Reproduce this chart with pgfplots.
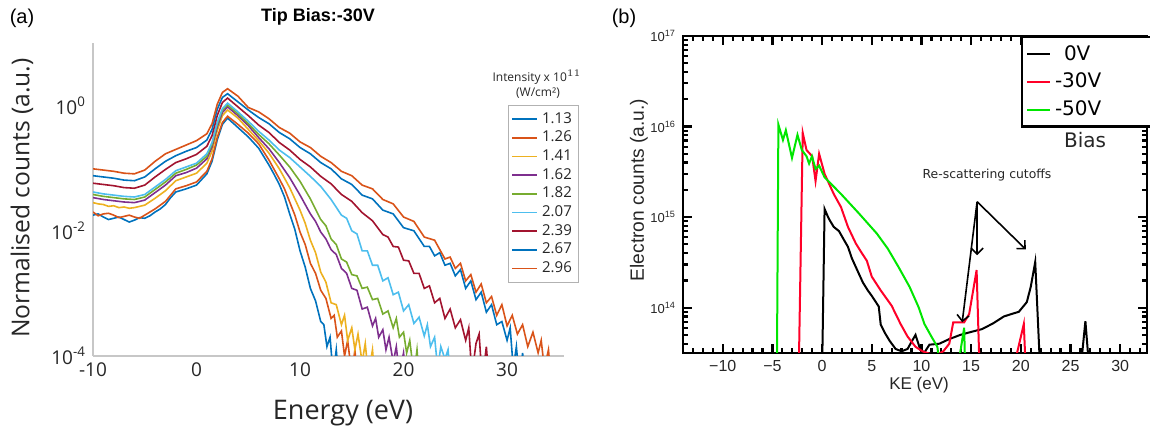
\documentclass[border=0pt]{standalone}
\usepackage{pgfplots}
\pgfplotsset{compat=1.18}
\usepackage{pgfplotstable}
\usetikzlibrary{arrows.meta}
\usepackage{fontspec}
\setmainfont{Liberation Sans}
\newfontfamily\osans{Open Sans}
\newfontfamily\dvs{DejaVu Sans}
\definecolor{m1}{RGB}{0,114,189}
\definecolor{m2}{RGB}{217,83,25}
\definecolor{m3}{RGB}{237,177,32}
\definecolor{m4}{RGB}{126,47,142}
\definecolor{m5}{RGB}{119,172,48}
\definecolor{m6}{RGB}{77,190,238}
\definecolor{m7}{RGB}{162,20,47}
\definecolor{cred}{RGB}{255,0,40}
\definecolor{cgreen}{RGB}{0,230,0}

% left panel: x = energy (eV), ly = log10(normalised counts)
\pgfplotstableread[row sep=\\]{
x ly\\
-10 -1.75\\ -9.5 -1.73\\ -9 -1.78\\ -8.5 -1.82\\ -8 -1.80\\ -7.5 -1.78\\ -7 -1.82\\ -6.5 -1.86\\ -6 -1.83\\ -5.5 -1.79\\ -5 -1.80\\ -4.5 -1.76\\ -4 -1.70\\ -3.5 -1.65\\ -3 -1.58\\ -2.5 -1.47\\ -2 -1.38\\ -1 -1.33\\ 0 -1.27\\ 1 -1.09\\ 1.5 -0.89\\ 2 -0.55\\ 2.5 -0.30\\ 3 -0.20\\
4 -0.35\\ 5 -0.50\\ 6 -0.68\\ 7 -0.95\\ 7.5 -1.10\\ 8 -1.26\\ 8.5 -1.46\\ 9 -1.73\\ 9.5 -1.98\\ 10 -2.32\\ 10.5 -2.58\\ 11 -2.92\\ 11.5 -3.12\\ 12 -3.45\\ 12.3 -3.50\\ 12.6 -3.85\\ 12.9 -3.70\\ 13.2 -4.3\\ 13.5 -3.90\\ 13.8 -4.5\\
}\tA
\pgfplotstableread[row sep=\\]{
x ly\\
-10 -1.70\\ -9.5 -1.76\\ -9 -1.73\\ -8.5 -1.72\\ -8 -1.75\\ -7.5 -1.79\\ -7 -1.77\\ -6.5 -1.75\\ -6 -1.78\\ -5.5 -1.80\\ -5 -1.75\\ -4 -1.65\\ -3 -1.53\\ -2 -1.33\\ -1 -1.28\\ 0 -1.22\\ 1 -1.05\\ 1.5 -0.85\\ 2 -0.51\\ 2.5 -0.27\\ 3 -0.17\\
4 -0.30\\ 5 -0.44\\ 6 -0.61\\ 7 -0.87\\ 8 -1.17\\ 8.5 -1.33\\ 9 -1.54\\ 9.5 -1.75\\ 10 -2.02\\ 10.5 -2.22\\ 11 -2.52\\ 11.5 -2.68\\ 12 -2.95\\ 12.5 -3.08\\ 13 -3.40\\ 13.3 -3.35\\ 13.6 -3.70\\ 14 -3.60\\ 14.3 -4.0\\ 14.6 -3.75\\ 15 -4.3\\ 15.3 -3.9\\ 15.6 -4.5\\
}\tB
\pgfplotstableread[row sep=\\]{
x ly\\
-10 -1.55\\ -9.5 -1.57\\ -9 -1.58\\ -8.5 -1.61\\ -8 -1.60\\ -7.5 -1.63\\ -7 -1.62\\ -6.5 -1.64\\ -6 -1.63\\ -5 -1.59\\ -4 -1.48\\ -3 -1.36\\ -2 -1.20\\ -1 -1.14\\ 0 -1.08\\ 1 -0.92\\ 1.5 -0.73\\ 2 -0.40\\ 2.5 -0.16\\ 3 -0.07\\
4 -0.20\\ 5 -0.38\\ 6 -0.56\\ 7 -0.76\\ 8 -1.01\\ 9 -1.31\\ 10 -1.67\\ 10.5 -1.88\\ 11 -2.15\\ 11.5 -2.35\\ 12 -2.66\\ 12.5 -2.82\\ 13 -3.15\\ 13.5 -3.18\\ 14 -3.50\\ 14.3 -3.35\\ 14.6 -3.75\\ 15 -3.55\\ 15.3 -3.90\\ 15.6 -3.65\\ 16 -4.10\\ 16.3 -3.80\\ 16.6 -4.3\\ 17 -3.90\\ 17.3 -4.5\\
}\tC
\pgfplotstableread[row sep=\\]{
x ly\\
-10 -1.47\\ -9 -1.50\\ -8 -1.52\\ -7 -1.54\\ -6 -1.55\\ -5 -1.51\\ -4 -1.39\\ -3 -1.27\\ -2 -1.12\\ -1 -1.07\\ 0 -1.00\\ 1 -0.85\\ 1.5 -0.66\\ 2 -0.34\\ 2.5 -0.11\\ 3 -0.02\\
4 -0.16\\ 5 -0.32\\ 6 -0.51\\ 7 -0.69\\ 8 -0.91\\ 9 -1.15\\ 10 -1.43\\ 11 -1.73\\ 11.5 -1.85\\ 12 -2.02\\ 12.5 -2.13\\ 13 -2.30\\ 13.5 -2.38\\ 14 -2.60\\ 14.5 -2.68\\ 15 -2.92\\ 15.5 -2.95\\ 16 -3.25\\ 16.5 -3.22\\ 17 -3.52\\ 17.3 -3.40\\ 17.6 -3.70\\ 18 -3.58\\ 18.3 -3.90\\ 18.6 -3.70\\ 19 -4.10\\ 19.3 -3.85\\ 19.6 -4.3\\ 20 -3.95\\ 20.3 -4.5\\
}\tD
\pgfplotstableread[row sep=\\]{
x ly\\
-10 -1.42\\ -9 -1.45\\ -8 -1.47\\ -7 -1.49\\ -6 -1.50\\ -5 -1.46\\ -4 -1.34\\ -3 -1.22\\ -2 -1.08\\ -1 -1.02\\ 0 -0.95\\ 1 -0.81\\ 1.5 -0.62\\ 2 -0.30\\ 2.5 -0.07\\ 3 0.01\\
4 -0.13\\ 5 -0.29\\ 6 -0.46\\ 7 -0.61\\ 8 -0.79\\ 9 -0.98\\ 10 -1.21\\ 11 -1.49\\ 12 -1.82\\ 12.5 -1.92\\ 13 -2.13\\ 13.5 -2.22\\ 14 -2.45\\ 14.5 -2.50\\ 15 -2.70\\ 15.5 -2.72\\ 16 -2.92\\ 16.5 -2.90\\ 17 -3.10\\ 17.5 -3.08\\ 18 -3.33\\ 18.5 -3.28\\ 19 -3.55\\ 19.3 -3.40\\ 19.6 -3.70\\ 20 -3.62\\ 20.3 -3.95\\ 20.6 -3.75\\ 21 -4.3\\ 21.3 -3.90\\ 21.6 -4.5\\
}\tE
\pgfplotstableread[row sep=\\]{
x ly\\
-10 -1.38\\ -9 -1.41\\ -8 -1.43\\ -7 -1.45\\ -6 -1.46\\ -5 -1.42\\ -4 -1.30\\ -3 -1.18\\ -2 -1.04\\ -1 -0.98\\ 0 -0.92\\ 1 -0.77\\ 1.5 -0.59\\ 2 -0.27\\ 2.5 -0.05\\ 3 0.04\\
4 -0.10\\ 5 -0.25\\ 6 -0.41\\ 7 -0.55\\ 8 -0.71\\ 9 -0.83\\ 10 -0.98\\ 11 -1.13\\ 12 -1.29\\ 13 -1.50\\ 14 -1.75\\ 14.5 -1.80\\ 15 -2.00\\ 15.5 -2.05\\ 16 -2.32\\ 16.5 -2.32\\ 17 -2.55\\ 17.5 -2.55\\ 18 -2.80\\ 18.5 -2.75\\ 19 -3.02\\ 19.5 -2.98\\ 20 -3.28\\ 20.5 -3.18\\ 21 -3.48\\ 21.5 -3.38\\ 22 -3.68\\ 22.3 -3.50\\ 22.6 -3.85\\ 23 -3.70\\ 23.3 -4.2\\ 23.6 -3.85\\ 24 -4.05\\ 24.3 -3.90\\ 24.6 -4.5\\
}\tF
\pgfplotstableread[row sep=\\]{
x ly\\
-10 -1.24\\ -9 -1.26\\ -8 -1.28\\ -7 -1.31\\ -6 -1.32\\ -5 -1.27\\ -4 -1.14\\ -3 -1.02\\ -2 -0.91\\ -1 -0.85\\ 0 -0.78\\ 1 -0.65\\ 1.5 -0.48\\ 2 -0.16\\ 2.5 0.05\\ 3 0.12\\
4 -0.02\\ 5 -0.16\\ 6 -0.31\\ 7 -0.43\\ 8 -0.59\\ 9 -0.71\\ 10 -0.86\\ 11 -0.98\\ 12 -1.13\\ 13 -1.25\\ 14 -1.42\\ 15 -1.53\\ 16 -1.71\\ 17 -1.84\\ 18 -2.06\\ 18.5 -2.10\\ 19 -2.25\\ 19.5 -2.26\\ 20 -2.47\\ 20.5 -2.48\\ 21 -2.68\\ 21.5 -2.68\\ 22 -2.92\\ 22.5 -2.88\\ 23 -3.15\\ 23.5 -3.08\\ 24 -3.40\\ 24.5 -3.25\\ 25 -3.55\\ 25.5 -3.42\\ 26 -3.75\\ 26.3 -3.55\\ 26.6 -4.3\\ 27 -3.80\\ 27.3 -3.65\\ 27.6 -4.4\\ 28 -3.85\\ 28.3 -4.5\\
}\tG
\pgfplotstableread[row sep=\\]{
x ly\\
-10 -1.12\\ -9 -1.14\\ -8 -1.16\\ -7 -1.19\\ -6 -1.20\\ -5 -1.14\\ -4 -1.01\\ -3 -0.89\\ -2 -0.80\\ -1 -0.73\\ 0 -0.67\\ 1 -0.55\\ 1.5 -0.38\\ 2 -0.06\\ 2.5 0.13\\ 3 0.19\\
4 0.06\\ 5 -0.07\\ 6 -0.19\\ 7 -0.29\\ 8 -0.43\\ 9 -0.53\\ 10 -0.67\\ 11 -0.77\\ 12 -0.91\\ 13 -1.01\\ 14 -1.17\\ 15 -1.26\\ 16 -1.43\\ 17 -1.49\\ 18 -1.67\\ 19 -1.73\\ 20 -1.95\\ 21 -2.00\\ 22 -2.25\\ 22.5 -2.25\\ 23 -2.40\\ 23.5 -2.35\\ 24 -2.55\\ 24.5 -2.52\\ 25 -2.72\\ 25.5 -2.62\\ 26 -2.92\\ 26.5 -2.80\\ 27 -3.10\\ 27.5 -2.98\\ 28 -3.30\\ 28.5 -3.18\\ 29 -3.50\\ 29.5 -3.45\\ 30 -3.75\\ 30.3 -3.55\\ 30.6 -4.2\\ 30.9 -3.85\\ 31.2 -4.4\\ 31.5 -3.95\\ 31.8 -4.5\\
}\tH
\pgfplotstableread[row sep=\\]{
x ly\\
-10 -1.01\\ -9 -1.03\\ -8 -1.05\\ -7 -1.08\\ -6 -1.09\\ -5 -1.03\\ -4 -0.89\\ -3 -0.77\\ -2 -0.70\\ -1 -0.63\\ 0 -0.56\\ 1 -0.45\\ 1.5 -0.29\\ 2 0.02\\ 2.5 0.21\\ 3 0.27\\
4 0.15\\ 5 -0.03\\ 6 -0.10\\ 7 -0.21\\ 8 -0.35\\ 9 -0.44\\ 10 -0.58\\ 11 -0.67\\ 12 -0.81\\ 13 -0.91\\ 14 -1.05\\ 15 -1.12\\ 16 -1.27\\ 17 -1.33\\ 18 -1.50\\ 19 -1.57\\ 20 -1.78\\ 21 -1.85\\ 22 -2.10\\ 23 -2.15\\ 24 -2.45\\ 24.5 -2.42\\ 25 -2.60\\ 25.5 -2.52\\ 26 -2.80\\ 26.5 -2.70\\ 27 -2.98\\ 27.5 -2.85\\ 28 -3.15\\ 28.5 -3.05\\ 29 -3.35\\ 29.5 -3.18\\ 30 -3.52\\ 30.5 -3.35\\ 31 -3.65\\ 31.5 -3.50\\ 32 -3.85\\ 32.5 -3.62\\ 33 -3.95\\ 33.3 -3.75\\ 33.6 -4.2\\ 34 -3.9\\ 34.3 -4.5\\
}\tI

% right panel: x = KE (eV), y = electron counts
\pgfplotstableread[row sep=\\]{
x y\\
0 2e13\\ 0.25 1.23e15\\ 0.6 1.0e15\\ 0.8 9.1e14\\ 1.17 7.8e14\\ 1.7 7.0e14\\ 2.2 5.6e14\\ 2.6 4.7e14\\ 3.0 3.5e14\\ 3.4 2.8e14\\ 4.1 1.9e14\\ 4.6 1.55e14\\ 5.0 1.35e14\\ 5.7 1.03e14\\ 5.9 6.5e13\\ 6.3 5.3e13\\ 6.8 4.3e13\\ 7.4 3.5e13\\ 8.0 3.3e13\\ 8.6 3.5e13\\ 9.0 4.2e13\\ 9.4 5.0e13\\ 9.9 3.4e13\\ 10.3 3.2e13\\ 10.8 3.9e13\\ 11.8 4.0e13\\ 12.8 4.5e13\\ 13.9 5.0e13\\ 15.0 5.4e13\\ 16.1 5.8e13\\ 17.2 6.7e13\\ 18.3 8.0e13\\ 19.2 8.6e13\\ 19.8 9.0e13\\ 20.6 1.15e14\\ 21.0 1.7e14\\ 21.45 3.2e14\\ 21.95 2e13\\ 26.0 2e13\\ 26.5 7.1e13\\ 26.9 2e13\\
}\tK
\pgfplotstableread[row sep=\\]{
x y\\
-2.35 2e13\\ -1.95 8.5e15\\ -1.57 5.5e15\\ -1.0 4.7e15\\ -0.66 2.5e15\\ -0.3 5.0e15\\ 0.25 3.0e15\\ 1.17 1.8e15\\ 1.9 1.29e15\\ 2.6 7.8e14\\ 3.4 5.1e14\\ 4.0 4.0e14\\ 4.5 3.3e14\\ 5.0 2.2e14\\ 5.9 1.55e14\\ 7.0 1.05e14\\ 7.9 6.6e13\\ 8.6 4.8e13\\ 9.4 3.7e13\\ 10.1 3.3e13\\ 10.8 3.1e13\\ 11.5 3.0e13\\ 12.2 3.3e13\\ 12.8 4.0e13\\ 13.2 6.9e13\\ 14.3 6.9e13\\ 14.8 8.5e13\\ 15.55 2.6e14\\ 15.85 2e13\\ 19.2 2e13\\ 20.3 6.6e13\\ 20.5 2e13\\
}\tR
\pgfplotstableread[row sep=\\]{
x y\\
-4.55 2e13\\ -4.4 1.05e16\\ -3.94 7.1e15\\ -3.65 9.1e15\\ -3.03 4.5e15\\ -2.48 8.1e15\\ -2.04 5.5e15\\ -1.57 4.7e15\\ -1.31 3.9e15\\ -1.02 4.7e15\\ -0.66 3.4e15\\ -0.3 3.7e15\\ 0.25 2.75e15\\ 1.9 1.8e15\\ 3.7 1.1e15\\ 5.5 6.6e14\\ 6.6 4.5e14\\ 7.7 2.8e14\\ 8.8 1.7e14\\ 9.7 1.02e14\\ 10.3 6.6e13\\ 11.0 4.8e13\\ 11.6 3.7e13\\ 11.9 2e13\\ 13.6 2e13\\ 14.3 6.0e13\\ 14.4 2e13\\
}\tGr

\begin{document}
\begin{tikzpicture}
\path[use as bounding box] (0pt,0pt) rectangle (575pt,216pt);

% ---------- panel (b)
\begin{axis}[
  at={(341.5pt,39.5pt)}, anchor=south west, scale only axis,
  width=232pt, height=158.5pt,
  xmin=-14, xmax=32.7, ymode=log, ymin=3.16e13, ymax=1e17,
  axis line style={line width=1.2pt},
  tick align=inside, major tick length=4.5pt, minor tick length=2.5pt,
  every tick/.append style={black, line width=1.1pt},
  xtick={-10,-5,0,5,10,15,20,25,30},
  xticklabels={−10,−5,0,5,10,15,20,25,30},
  minor xtick={-14,-13,...,32},
  ytick={1e14,1e15,1e16,1e17},
  yticklabels={10\textsuperscript{14},10\textsuperscript{15},10\textsuperscript{16},10\textsuperscript{17}},
  minor ytick={4e13,5e13,6e13,7e13,8e13,9e13,2e14,3e14,4e14,5e14,6e14,7e14,8e14,9e14,2e15,3e15,4e15,5e15,6e15,7e15,8e15,9e15,2e16,3e16,4e16,5e16,6e16,7e16,8e16,9e16},
  xticklabel style={font=\fontsize{8}{9}\selectfont, text=black!85},
  yticklabel style={font=\fontsize{6.5}{7}\selectfont, text=black!85},
  legend style={at={(0.728,1)}, anchor=north west, draw=black, line width=1.2pt,
    font=\dvs\fontsize{10}{11}\selectfont, inner sep=2pt, row sep=1pt,
    nodes={text width=50pt, align=left}},
  legend image code/.code={\draw[#1, line width=1pt] (0pt,0pt) -- (11.5pt,0pt);},
  every axis plot/.append style={line width=1pt},
]
\addplot[black] table[x=x, y=y] {\tK};
\addplot[cred] table[x=x, y=y] {\tR};
\addplot[cgreen] table[x=x, y=y] {\tGr};
\legend{\hspace{0.45em}0V,-30V,-50V}
\draw[-{Straight Barb[length=3pt]}, line width=0.8pt] (axis cs:15.6,1.48e15) -- (axis cs:15.6,3.8e14);
\draw[-{Straight Barb[length=3pt]}, line width=0.8pt] (axis cs:15.6,1.48e15) -- (axis cs:20.5,4.4e14);
\draw[-{Straight Barb[length=3pt]}, line width=0.8pt] (axis cs:15.6,1.48e15) -- (axis cs:14.1,6.9e13);
\node[font=\dvs\fontsize{6.2}{7}\selectfont, text=black!85] at (axis cs:16.6,2.9e15) {Re-scattering cutoffs};
\end{axis}

% ---------- panel (a)
\begin{axis}[
  at={(46.5pt,38pt)}, anchor=south west, scale only axis,
  width=235.5pt, height=156.5pt,
  xmin=-10, xmax=35.5, ymode=log, ymin=1e-4, ymax=10,
  axis x line*=bottom, axis y line*=left,
  axis line style={draw=black!22, line width=0.8pt, -},
  tick style={draw=none},
  xtick={-10,0,10,20,30}, xticklabels={-10,0,10,20,30},
  ytick={1e-4,1e-2,1},
  yticklabels={10\textsuperscript{-4},10\textsuperscript{-2},10\textsuperscript{0}},
  ticklabel style={font=\osans\fontsize{9.5}{10}\selectfont, text=black!85},
  legend style={at={(0.881,0.802)}, anchor=north west, draw=black!30,
    font=\osans\fontsize{7.5}{8}\selectfont, text=black!85, inner sep=1.5pt, row sep=-1.6pt},
  legend cell align=left,
  legend image code/.code={\draw[#1, line width=0.9pt] (0pt,0pt) -- (12.5pt,0pt);},
  every axis plot/.append style={line width=0.8pt},
]
\addplot[m1] table[x=x, y expr=10^(\thisrow{ly})] {\tA};
\addplot[m2] table[x=x, y expr=10^(\thisrow{ly})] {\tB};
\addplot[m3] table[x=x, y expr=10^(\thisrow{ly})] {\tC};
\addplot[m4] table[x=x, y expr=10^(\thisrow{ly})] {\tD};
\addplot[m5] table[x=x, y expr=10^(\thisrow{ly})] {\tE};
\addplot[m6] table[x=x, y expr=10^(\thisrow{ly})] {\tF};
\addplot[m7] table[x=x, y expr=10^(\thisrow{ly})] {\tG};
\addplot[m1] table[x=x, y expr=10^(\thisrow{ly})] {\tH};
\addplot[m2] table[x=x, y expr=10^(\thisrow{ly})] {\tI};
\legend{1.13,1.26,1.41,1.62,1.82,2.07,2.39,2.67,2.96}
\end{axis}

% ---------- labels
\node[font=\fontsize{10}{12}\selectfont] at (11pt,207pt) {(a)};
\node[font=\fontsize{10}{12}\selectfont] at (312pt,207pt) {(b)};
\node[font=\bfseries\fontsize{9}{11}\selectfont] at (159pt,207.5pt) {Tip Bias:-30V};
\node[rotate=90, font=\osans\fontsize{12.3}{14}\selectfont, text=black!85] at (11pt,117pt) {Normalised counts (a.u.)};
\node[font=\osans\fontsize{13.5}{15}\selectfont, text=black!85] at (171.5pt,9.5pt) {Energy (eV)};
\node[font=\osans\fontsize{6}{7}\selectfont, text=black!85] at (268.5pt,177.5pt) {Intensity x 10$^{11}$};
\node[font=\osans\fontsize{6}{7}\selectfont, text=black!85] at (269pt,169.5pt) {(W/cm²)};
\node[rotate=90, font=\fontsize{9.6}{11}\selectfont, text=black!85] at (319.5pt,121pt) {Electron counts (a.u.)};
\node[font=\fontsize{8.5}{10}\selectfont, text=black!85] at (459.5pt,23.5pt) {KE (eV)};
\node[font=\dvs\fontsize{10}{12}\selectfont, text=black!85] at (542.5pt,146pt) {Bias};
\end{tikzpicture}
\end{document}
